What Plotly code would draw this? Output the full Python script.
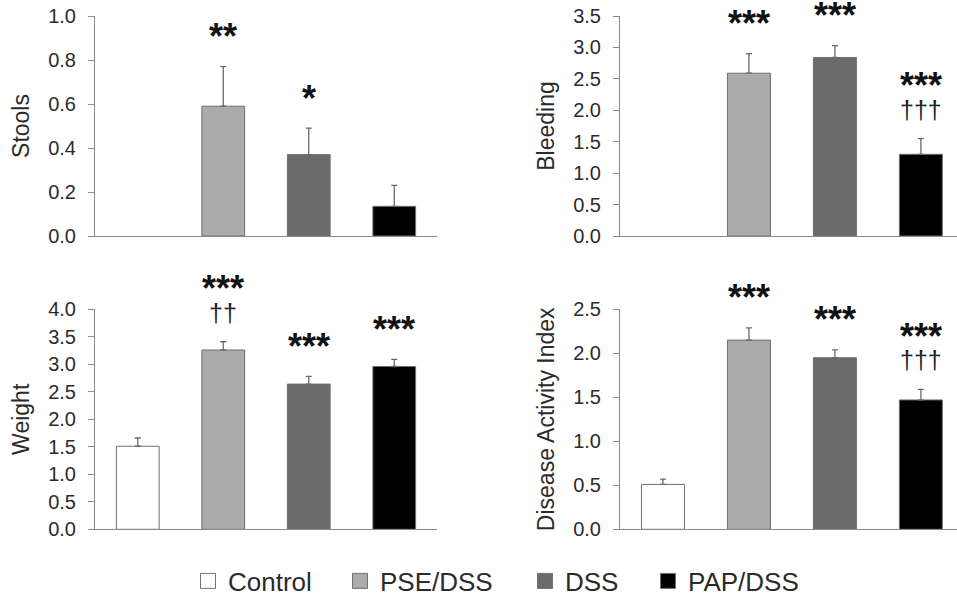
import plotly.graph_objects as go

groups = ["Control", "PSE/DSS", "DSS", "PAP/DSS"]
colors = ["#ffffff", "#ababab", "#6b6b6b", "#000000"]

stools = [None, 0.59, 0.37, 0.135]
stools_err = [None, 0.18, 0.12, 0.095]
stools_stars = ["", "**", "*", ""]
stools_daggers = ["", "", "", ""]

bleeding = [None, 2.59, 2.84, 1.30]
bleeding_err = [None, 0.31, 0.19, 0.25]
bleeding_stars = ["", "***", "***", "***"]
bleeding_daggers = ["", "", "", "†††"]

weight = [1.51, 3.26, 2.64, 2.96]
weight_err = [0.15, 0.15, 0.14, 0.13]
weight_stars = ["", "***", "***", "***"]
weight_daggers = ["", "††", "", ""]

dai = [0.51, 2.15, 1.95, 1.47]
dai_err = [0.06, 0.14, 0.09, 0.12]
dai_stars = ["", "***", "***", "***"]
dai_daggers = ["", "", "", "†††"]

FONT = "Liberation Sans, Arial, sans-serif"
AXIS_COL = "#8a8a8a"
TEXT_COL = "#2b2b2b"
W, H = 957, 602


def fy(px):
    return (H - px) / H


panels = [
    dict(title="Stools", vals=stools, errs=stools_err, stars=stools_stars, daggers=stools_daggers,
         ymax=1.0, dtick=0.2, xd=[95 / W, 437 / W], yd=[fy(236), fy(16)], xr=[-0.5, 3.5]),
    dict(title="Bleeding", vals=bleeding, errs=bleeding_err, stars=bleeding_stars, daggers=bleeding_daggers,
         ymax=3.5, dtick=0.5, xd=[620 / W, 1.0], yd=[fy(236), fy(16)], xr=[-0.5, 3.42]),
    dict(title="Weight", vals=weight, errs=weight_err, stars=weight_stars, daggers=weight_daggers,
         ymax=4.0, dtick=0.5, xd=[95 / W, 437 / W], yd=[fy(529.3), fy(309.3)], xr=[-0.5, 3.5]),
    dict(title="Disease Activity Index", vals=dai, errs=dai_err, stars=dai_stars, daggers=dai_daggers,
         ymax=2.5, dtick=0.5, xd=[620 / W, 1.0], yd=[fy(529.3), fy(309.3)], xr=[-0.5, 3.42]),
]

fig = go.Figure()
annotations = []
for p_i, p in enumerate(panels):
    n = "" if p_i == 0 else str(p_i + 1)
    xa, ya = "x" + n, "y" + n
    for g_i, g in enumerate(groups):
        v = p["vals"][g_i]
        e = p["errs"][g_i]
        fig.add_trace(go.Bar(
            x=[g], y=[v], xaxis=xa, yaxis=ya, width=0.5,
            marker=dict(color=colors[g_i], line=dict(color="#707070", width=1)),
            error_y=dict(type="data", symmetric=False, array=[e], arrayminus=[0],
                         color="#6a6a6a", thickness=1.3, width=3),
            showlegend=False, name=g, hoverinfo="skip",
        ))
        if v is None:
            continue
        top = v + e
        has_dag = p["daggers"][g_i] != ""
        if has_dag:
            annotations.append(dict(x=g, y=top, xref=xa, yref=ya, text=p["daggers"][g_i],
                                    showarrow=False, yanchor="middle", yshift=29,
                                    font=dict(family=FONT, size=25, color="#222")))
        if p["stars"][g_i]:
            annotations.append(dict(x=g, y=top, xref=xa, yref=ya, text="<b>" + p["stars"][g_i] + "</b>",
                                    showarrow=False, yanchor="middle",
                                    yshift=(58 if has_dag else 35) - 5,
                                    font=dict(family=FONT, size=36, color="#111")))
    fig.update_layout(**{
        ("xaxis" + n): dict(domain=p["xd"], anchor=ya, type="category", categoryorder="array",
                            categoryarray=groups, range=p["xr"], showticklabels=False, ticks="",
                            showline=True, linecolor=AXIS_COL, linewidth=1, showgrid=False, zeroline=False),
        ("yaxis" + n): dict(domain=p["yd"], anchor=xa, range=[0, p["ymax"]], dtick=p["dtick"],
                            tickformat=".1f", ticks="outside", ticklen=6, tickcolor=AXIS_COL,
                            ticklabelstandoff=8,
                            showline=True, linecolor=AXIS_COL, linewidth=1, showgrid=False, zeroline=False,
                            tickfont=dict(family=FONT, size=20, color=TEXT_COL),
                            title=dict(text=p["title"], standoff=12,
                                       font=dict(family=FONT, size=23, color=TEXT_COL))),
    })

# legend: one legend box per group, placed side by side
legend_x = [188, 340, 525, 648]
legend_layout = {}
for g_i, g in enumerate(groups):
    lname = "legend" if g_i == 0 else "legend" + str(g_i + 1)
    fig.add_trace(go.Scatter(
        x=[None], y=[None], mode="markers", name=g, showlegend=True, legend=lname,
        marker=dict(symbol="square", size=15, color=colors[g_i], line=dict(color="#707070", width=1)),
    ))
    legend_layout[lname] = dict(orientation="h", x=legend_x[g_i] / W, xanchor="left",
                                y=fy(581), yanchor="middle", bgcolor="rgba(0,0,0,0)",
                                font=dict(family=FONT, size=26, color=TEXT_COL), itemsizing="trace")

fig.update_layout(
    width=W, height=H, margin=dict(l=0, r=0, t=0, b=0, autoexpand=False),
    paper_bgcolor="white", plot_bgcolor="white", barmode="overlay",
    annotations=annotations,
    font=dict(family=FONT),
    **legend_layout,
)

fig.write_html("out.html", config={"displayModeBar": False},
               post_script="document.body.style.margin='0px';")
